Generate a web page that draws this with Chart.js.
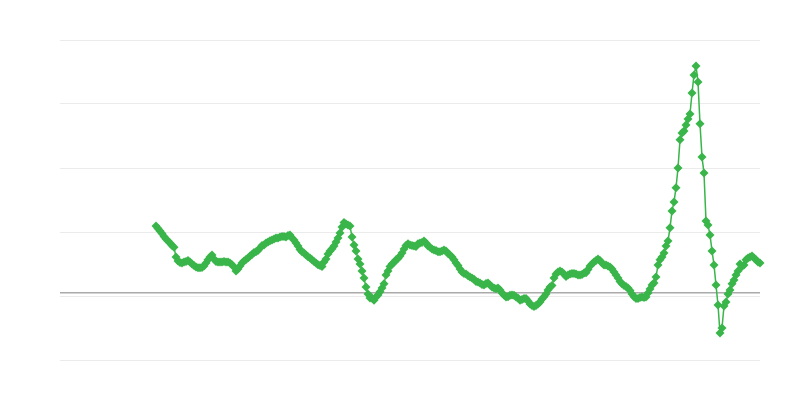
<!DOCTYPE html>
<html>
<head>
<meta charset="utf-8">
<script src="https://cdn.jsdelivr.net/npm/chart.js@4"></script>
<style>
  html, body { margin: 0; padding: 0; background: #fff; }
  #wrap { width: 800px; height: 400px; }
</style>
</head>
<body>
<div id="wrap"><canvas id="myChart"></canvas></div>
<script>
// monthly periods on the x axis, the series only starts at period 48
const periodCount = 351
const firstValueIndex = 48
const labels = Array.from({length: periodCount}, (_, i) => "P" + (i + 1))

const values = [
  2.19, 2.11, 2.03, 1.95, 1.86, 1.78, 1.72, 1.66, 1.58, 1.52,
  1.22, 1.09, 1.05, 1.03, 1.06, 1.08, 1.11, 1.06, 1.00, 0.95,
  0.91, 0.88, 0.88, 0.89, 0.94, 1.03, 1.13, 1.22, 1.28, 1.16,
  1.08, 1.06, 1.06, 1.06, 1.08, 1.06, 1.06, 1.03, 0.98, 0.91,
  0.78, 0.84, 0.94, 1.03, 1.09, 1.14, 1.19, 1.25, 1.30, 1.36,
  1.38, 1.42, 1.50, 1.58, 1.59, 1.66, 1.69, 1.73, 1.75, 1.78,
  1.81, 1.81, 1.84, 1.86, 1.86, 1.84, 1.89, 1.91, 1.81, 1.75,
  1.66, 1.56, 1.45, 1.38, 1.34, 1.28, 1.23, 1.19, 1.13, 1.08,
  1.03, 0.98, 0.95, 0.92, 1.06, 1.16, 1.31, 1.41, 1.48, 1.56,
  1.69, 1.81, 1.97, 2.16, 2.30, 2.25, 2.22, 2.19, 1.84, 1.59,
  1.41, 1.16, 1.00, 0.78, 0.56, 0.28, 0.06, -0.06, -0.06, -0.13,
  -0.03, 0.03, 0.13, 0.25, 0.38, 0.66, 0.78, 0.92, 1.00, 1.05,
  1.13, 1.17, 1.25, 1.34, 1.47, 1.58, 1.63, 1.59, 1.58, 1.56,
  1.55, 1.63, 1.66, 1.67, 1.72, 1.66, 1.56, 1.52, 1.47, 1.44,
  1.42, 1.38, 1.38, 1.41, 1.44, 1.41, 1.33, 1.28, 1.22, 1.13,
  1.03, 0.95, 0.84, 0.75, 0.70, 0.69, 0.63, 0.59, 0.56, 0.52,
  0.45, 0.44, 0.41, 0.36, 0.34, 0.39, 0.41, 0.34, 0.28, 0.25,
  0.23, 0.25, 0.19, 0.09, 0.03, -0.03, -0.02, 0.02, 0.03, 0.02,
  -0.03, -0.06, -0.13, -0.11, -0.08, -0.08, -0.16, -0.25, -0.30, -0.33,
  -0.30, -0.25, -0.19, -0.09, -0.02, 0.06, 0.19, 0.28, 0.33, 0.56,
  0.69, 0.75, 0.78, 0.75, 0.69, 0.61, 0.66, 0.69, 0.70, 0.70,
  0.69, 0.66, 0.66, 0.67, 0.72, 0.73, 0.83, 0.94, 1.00, 1.06,
  1.11, 1.16, 1.11, 1.03, 0.97, 0.97, 0.94, 0.91, 0.84, 0.75,
  0.66, 0.56, 0.45, 0.38, 0.33, 0.30, 0.25, 0.17, 0.06, -0.02,
  -0.08, -0.08, -0.05, -0.03, -0.05, -0.03, 0.09, 0.22, 0.34, 0.41,
  0.59, 0.97, 1.13, 1.22, 1.34, 1.56, 1.72, 2.13, 2.66, 2.94,
  3.38, 4.00, 4.88, 5.09, 5.16, 5.34, 5.53, 5.69, 6.34, 6.91,
  7.19, 6.69, 5.38, 4.34, 3.84, 2.34, 2.22, 1.91, 1.41, 0.97,
  0.34, -0.28, -1.16, -1.00, -0.31, -0.19, 0.06, 0.19, 0.38, 0.50,
  0.66, 0.78, 1.00, 0.92, 0.97, 1.13, 1.19, 1.22, 1.25, 1.19,
  1.13, 1.06, 1.03
]

const yTicks = [-2, 0, 2, 4, 6, 8]
const baselineValue = 0.1

const seriesData = Array(firstValueIndex).fill(null).concat(values)
const green = "#39b54a"

const ctx = document.getElementById("myChart")
const myChart = new Chart(ctx, {
  type: "line",
  data: {
    labels: labels,
    datasets: [{
      label: "Series",
      data: seriesData,
      borderColor: green,
      backgroundColor: green,
      borderWidth: 1.5,
      pointStyle: "rectRot",
      pointRadius: 4.5,
      pointBorderWidth: 0,
      pointHoverRadius: 5,
      tension: 0,
      clip: false
    }]
  },
  options: {
    responsive: true,
    maintainAspectRatio: false,
    animation: false,
    layout: { padding: { left: 60, right: 40, top: 40, bottom: 40 } },
    plugins: {
      legend: { display: false },
      tooltip: { enabled: false }
    },
    scales: {
      x: {
        display: false
      },
      y: {
        min: yTicks[0],
        max: yTicks[yTicks.length - 1],
        afterBuildTicks: function(scale) {
          scale.ticks = yTicks.concat([baselineValue]).map(v => ({ value: v }))
        },
        ticks: { display: false },
        border: { display: false },
        grid: {
          drawTicks: false,
          color: c => c.tick && c.tick.value === baselineValue ? "#aaaaaa" : "#ebebeb",
          lineWidth: c => c.tick && c.tick.value === baselineValue ? 1.5 : 1
        }
      }
    }
  }
});
</script>
</body>
</html>
